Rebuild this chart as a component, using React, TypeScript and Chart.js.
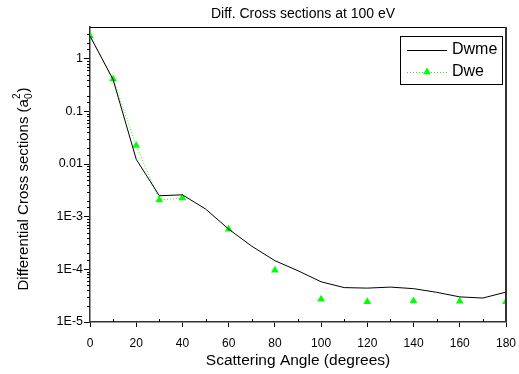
import React, { useEffect, useRef } from "react";
import { Chart, registerables } from "chart.js";

Chart.register(...registerables);

const TITLE = "Diff. Cross sections at 100 eV";
const X_TITLE = "Scattering Angle (degrees)";
const Y_TITLE_MAIN = "Differential Cross sections (a";
const Y_TITLE_SUB = "0";
const Y_TITLE_SUP = "2";
const Y_TITLE_END = ")";

const SERIES_A = "Dwme";
const SERIES_B = "Dwe";

const dwmeAngles = [0, 10, 20, 30, 40, 50, 60, 70, 80, 90, 100, 110, 120, 130, 140, 150, 160, 170, 180];
const dwmeValues = [2.7, 0.4, 0.0123, 0.0025, 0.0026, 0.0014, 5.8e-4, 2.75e-4, 1.46e-4, 9.4e-5, 5.8e-5, 4.5e-5, 4.4e-5, 4.6e-5, 4.3e-5, 3.66e-5, 3.0e-5, 2.85e-5, 3.7e-5];

const dweAngles = [0, 10, 20, 30, 40, 60, 80, 100, 120, 140, 160, 180];
const dweValues = [2.7, 0.41, 0.0226, 2.07e-3, 2.26e-3, 5.8e-4, 9.6e-5, 2.7e-5, 2.43e-5, 2.5e-5, 2.47e-5, 2.43e-5];
// the dotted Dwe line is only visible up to this angle
const DWE_LINE_END = 40;

const X_MIN = 0;
const X_MAX = 180;
const X_STEP = 10;
const X_LABEL_STEP = 20;
const Y_MIN = 1e-5;
const Y_MAX = 4;

const FONT = '"Liberation Sans", Arial, sans-serif';
const GREEN = "#00ff00";

function isDecade(v: number): boolean {
  const l = Math.log10(v);
  return Math.abs(l - Math.round(l)) < 1e-9;
}

function yLabel(v: number): string {
  if (!isDecade(v)) return "";
  const e = Math.round(Math.log10(v));
  if (e >= -2) return String(Math.pow(10, e).toFixed(Math.max(0, -e)));
  return "1E" + e;
}

const decor = {
  id: "decor",
  afterDraw(chart: any) {
    const { ctx, chartArea: a } = chart;
    const xs = chart.scales.x;
    const ys = chart.scales.y;
    ctx.save();
    // minor ticks
    ctx.strokeStyle = "#000";
    ctx.lineWidth = 1;
    ctx.beginPath();
    for (const t of xs.ticks) {
      if (t.value % X_LABEL_STEP === 0) continue;
      const px = Math.round(xs.getPixelForValue(t.value)) + 0.5;
      ctx.moveTo(px, a.bottom);
      ctx.lineTo(px, a.bottom - 3);
    }
    for (const t of ys.ticks) {
      if (isDecade(t.value) || t.value >= Y_MAX) continue;
      const py = Math.round(ys.getPixelForValue(t.value)) + 0.5;
      ctx.moveTo(a.left, py);
      ctx.lineTo(a.left - 3, py);
    }
    ctx.stroke();

    // frame
    ctx.beginPath();
    ctx.moveTo(a.left, a.top + 0.5);
    ctx.lineTo(a.right, a.top + 0.5);
    ctx.stroke();
    ctx.strokeStyle = "#333";
    ctx.lineWidth = 2;
    ctx.beginPath();
    ctx.moveTo(a.right, a.top);
    ctx.lineTo(a.right, a.bottom);
    ctx.stroke();

    ctx.fillStyle = "#000";
    ctx.textAlign = "center";
    ctx.textBaseline = "middle";
    ctx.font = "14px " + FONT;
    ctx.fillText(TITLE, 303, 14);
    ctx.font = "15.5px " + FONT;
    ctx.fillText(X_TITLE, 298, 361);

    // y title with sub/superscript
    ctx.save();
    ctx.translate(24, 189);
    ctx.rotate(-Math.PI / 2);
    ctx.font = "15px " + FONT;
    const wMain = ctx.measureText(Y_TITLE_MAIN).width;
    const wEnd = ctx.measureText(Y_TITLE_END).width;
    ctx.font = "10px " + FONT;
    const wSmall = Math.max(ctx.measureText(Y_TITLE_SUB).width, ctx.measureText(Y_TITLE_SUP).width);
    const total = wMain + wSmall + wEnd + 1;
    let x = -total / 2;
    ctx.textAlign = "left";
    ctx.font = "15px " + FONT;
    ctx.fillText(Y_TITLE_MAIN, x, 0);
    x += wMain;
    ctx.font = "10px " + FONT;
    ctx.fillText(Y_TITLE_SUB, x, 5);
    ctx.fillText(Y_TITLE_SUP, x, -7);
    x += wSmall + 1;
    ctx.font = "15px " + FONT;
    ctx.fillText(Y_TITLE_END, x, 0);
    ctx.restore();

    // legend
    const bx = 400, by = 36, bw = 102, bh = 48;
    ctx.fillStyle = "#fff";
    ctx.fillRect(bx, by, bw, bh);
    ctx.strokeStyle = "#000";
    ctx.lineWidth = 1;
    ctx.strokeRect(bx + 0.5, by + 0.5, bw, bh);
    const r1 = 50, r2 = 72;
    ctx.beginPath();
    ctx.moveTo(407, r1 + 0.5);
    ctx.lineTo(447, r1 + 0.5);
    ctx.strokeStyle = "#000";
    ctx.stroke();
    ctx.beginPath();
    ctx.setLineDash([1, 2]);
    ctx.strokeStyle = GREEN;
    ctx.moveTo(407, r2 + 0.5);
    ctx.lineTo(447, r2 + 0.5);
    ctx.stroke();
    ctx.setLineDash([]);
    ctx.fillStyle = GREEN;
    const rr = 4.5;
    ctx.beginPath();
    ctx.moveTo(427, r2 - rr);
    ctx.lineTo(427 + rr * 0.866, r2 + rr / 2);
    ctx.lineTo(427 - rr * 0.866, r2 + rr / 2);
    ctx.closePath();
    ctx.fill();
    ctx.fillStyle = "#000";
    ctx.font = "16px " + FONT;
    ctx.textAlign = "left";
    ctx.fillText(SERIES_A, 452, r1);
    ctx.fillText(SERIES_B, 452, r2);
    ctx.restore();
  },
};

export default function App() {
  const ref = useRef<HTMLCanvasElement>(null);
  useEffect(() => {
    if (!ref.current) return;
    const chart = new Chart(ref.current, {
      type: "line",
      data: {
        datasets: [
          {
            label: SERIES_A,
            data: dwmeAngles.map((x, i) => ({ x, y: dwmeValues[i] })),
            borderColor: "#000",
            borderWidth: 1,
            pointRadius: 0,
            tension: 0,
            fill: false,
          },
          {
            label: SERIES_B,
            data: dweAngles.map((x, i) => ({ x, y: dweValues[i] })),
            borderColor: GREEN,
            backgroundColor: GREEN,
            borderWidth: 1,
            borderDash: [1, 2],
            pointStyle: "triangle",
            pointRadius: 4.5,
            pointBorderWidth: 0,
            pointBackgroundColor: GREEN,
            pointBorderColor: GREEN,
            tension: 0,
            fill: false,
            segment: {
              borderColor: (c: any) => (c.p0.parsed.x >= DWE_LINE_END ? "rgba(0,0,0,0)" : GREEN),
            },
          },
        ],
      },
      options: {
        animation: false,
        responsive: true,
        maintainAspectRatio: false,
        layout: { padding: { top: 27, right: 13, left: 0, bottom: 0 } },
        plugins: { legend: { display: false }, title: { display: false }, tooltip: { enabled: false } },
        scales: {
          x: {
            type: "linear",
            min: X_MIN,
            max: X_MAX,
            afterFit: (s: any) => { s.height = 52; s.paddingLeft = 0; s.paddingRight = 0; },
            grid: {
              drawOnChartArea: false,
              tickLength: 5,
              tickColor: (c: any) => (c.tick && c.tick.value % X_LABEL_STEP === 0 ? "#000" : "rgba(0,0,0,0)"),
            },
            border: { color: "#333", width: 1.5 },
            ticks: {
              stepSize: X_STEP,
              autoSkip: false,
              maxRotation: 0,
              padding: 9,
              color: "#000",
              font: { family: FONT, size: 12 },
              callback: (v: any) => (Number(v) % X_LABEL_STEP === 0 ? String(v) : ""),
            },
          },
          y: {
            type: "logarithmic",
            min: Y_MIN,
            max: Y_MAX,
            afterFit: (s: any) => { s.width = 90; s.paddingTop = 0; s.paddingBottom = 0; },
            grid: {
              drawOnChartArea: false,
              tickLength: 6,
              tickColor: (c: any) => (c.tick && isDecade(c.tick.value) ? "#000" : "rgba(0,0,0,0)"),
            },
            border: { color: "#333", width: 1.5 },
            ticks: {
              autoSkip: false,
              padding: 1,
              color: "#000",
              font: { family: FONT, size: 12.5 },
              callback: (v: any) => yLabel(Number(v)),
            },
          },
        },
      },
      plugins: [decor],
    });
    return () => chart.destroy();
  }, []);
  return (
    <div style={{ position: "fixed", left: 0, top: 0, width: 519, height: 374, background: "#fff" }}>
      <canvas ref={ref} />
    </div>
  );
}
